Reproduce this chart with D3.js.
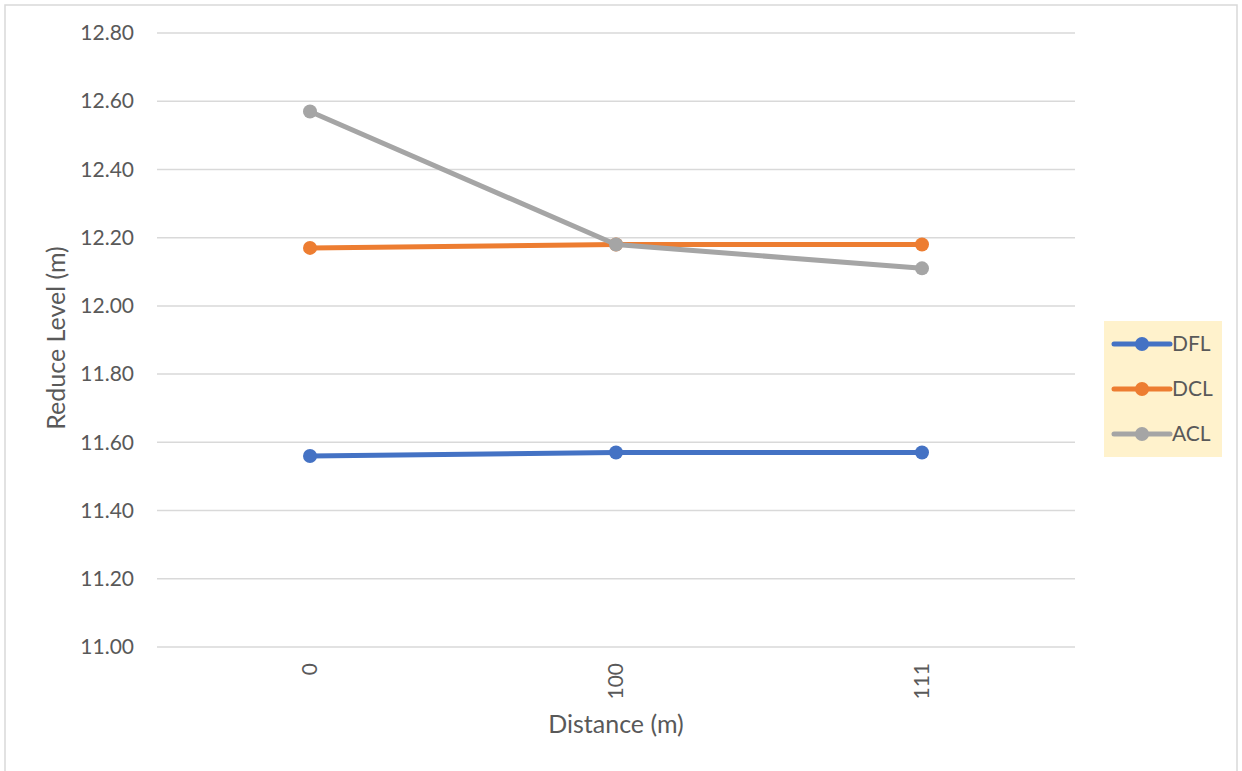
<!DOCTYPE html>
<html><head><meta charset="utf-8">
<script src="https://cdn.jsdelivr.net/npm/d3@7"></script>
<style>body{margin:0;background:#fff;}svg{display:block;font-family:Lato,"Open Sans",sans-serif;}</style>
</head><body>
<svg id="c" width="1242" height="771"></svg>
<script>
const categories = ["0", "100", "111"];
const seriesNames = ["DFL", "DCL", "ACL"];
const DFL = [11.56, 11.57, 11.57];
const DCL = [12.17, 12.18, 12.18];
const ACL = [12.57, 12.18, 12.11];
const yTicks = [11.0, 11.2, 11.4, 11.6, 11.8, 12.0, 12.2, 12.4, 12.6, 12.8];
const colors = ["#4472C4", "#ED7D31", "#A5A5A5"];

const series = [DFL, DCL, ACL].map((v, i) => ({name: seriesNames[i], values: v, color: colors[i]}));
const svg = d3.select("#c");
// chart frame
svg.append("rect").attr("x", 5).attr("y", 5).attr("width", 1232).attr("height", 780)
  .attr("fill", "#fff").attr("stroke", "#d9d9d9").attr("stroke-width", 1.5);

const x = d3.scaleBand().domain(categories).range([157, 1075]);
const y = d3.scaleLinear().domain([11.0, 12.8]).range([647, 33]);

// gridlines
svg.append("g").selectAll("line").data(yTicks).join("line")
  .attr("x1", 157).attr("x2", 1075)
  .attr("y1", d => y(d)).attr("y2", d => y(d))
  .attr("stroke", "#d9d9d9").attr("stroke-width", 1.5);

// y axis labels
const yAxis = svg.append("g").attr("transform", "translate(134,0)")
  .call(d3.axisLeft(y).tickValues(yTicks).tickFormat(d3.format(".2f")).tickSize(0).tickPadding(0));
yAxis.select(".domain").remove();
yAxis.selectAll("text").attr("fill", "#595959").attr("font-size", 21).attr("font-family", "Lato, sans-serif");

// x axis labels
const xAxis = svg.append("g").attr("transform", "translate(0,663)")
  .call(d3.axisBottom(x).tickSize(0).tickPadding(0));
xAxis.select(".domain").remove();
xAxis.selectAll("text").attr("fill", "#595959").attr("font-size", 21).attr("font-family", "Lato, sans-serif")
  .attr("transform", "rotate(-90)").attr("text-anchor", "end").attr("dy", "0.35em").attr("x", 0).attr("y", 0);

// axis titles
svg.append("text").attr("x", 616).attr("y", 733).attr("text-anchor", "middle")
  .attr("fill", "#595959").attr("font-size", 25).text("Distance (m)");
svg.append("text").attr("transform", "translate(65,338) rotate(-90)").attr("text-anchor", "middle")
  .attr("fill", "#595959").attr("font-size", 25).text("Reduce Level (m)");

// lines
const line = d3.line().x((d, i) => x(categories[i]) + x.bandwidth() / 2).y(d => y(d));
const g = svg.append("g");
series.forEach(s => {
  g.append("path").attr("d", line(s.values)).attr("fill", "none")
    .attr("stroke", s.color).attr("stroke-width", 5).attr("stroke-linejoin", "round");
  g.selectAll(null).data(s.values).join("circle")
    .attr("cx", (d, i) => x(categories[i]) + x.bandwidth() / 2).attr("cy", d => y(d))
    .attr("r", 7).attr("fill", s.color);
});

// legend
const lg = svg.append("g");
lg.append("rect").attr("x", 1104).attr("y", 321).attr("width", 118).attr("height", 136).attr("fill", "#FFF2CC");
series.forEach((s, i) => {
  const yy = 344 + i * 45;
  lg.append("line").attr("x1", 1114).attr("x2", 1170).attr("y1", yy).attr("y2", yy)
    .attr("stroke", s.color).attr("stroke-width", 5).attr("stroke-linecap", "round");
  lg.append("circle").attr("cx", 1142).attr("cy", yy).attr("r", 7).attr("fill", s.color);
  lg.append("text").attr("x", 1172).attr("y", yy).attr("dy", "0.35em")
    .attr("fill", "#595959").attr("font-size", 21).text(s.name);
});
</script>
</body></html>
